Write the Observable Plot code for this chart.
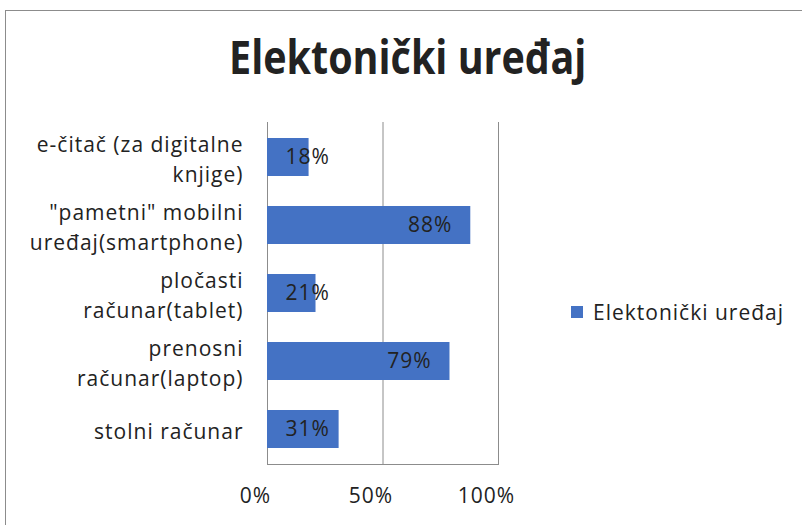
<!DOCTYPE html>
<html>
<head>
<meta charset="utf-8">
<script src="https://cdn.jsdelivr.net/npm/d3@7"></script>
<script src="https://cdn.jsdelivr.net/npm/@observablehq/plot@0.6"></script>
<style>
  html, body { margin: 0; padding: 0; background: #fff; overflow: hidden; }
  #page { position: relative; width: 802px; height: 525px; overflow: hidden; font-family: "Open Sans", sans-serif; color: #222; }
  #border { position: absolute; left: 5px; top: 10px; width: 820px; height: 540px; border: 1px solid #8c8c8c; box-sizing: border-box; }
  #title { position: absolute; left: 0; top: 33px; width: 816px; text-align: center; font-weight: bold; font-size: 47px; line-height: 1; white-space: nowrap; }
  #title span { display: inline-block; transform: scaleX(0.84); transform-origin: center; }
  #chart { position: absolute; left: 0; top: 110px; }
  #legend { position: absolute; left: 571px; top: 298px; display: flex; align-items: center; font-size: 21px; letter-spacing: 1px; white-space: nowrap; }
  #legend .sw { width: 12px; height: 12px; background: #4472C4; margin-right: 10px; }
</style>
</head>
<body>
<div id="page">
  <div id="border"></div>
  <div id="title"><span id="titleText"></span></div>
  <div id="chart"></div>
  <div id="legend"><span class="sw"></span><span id="legendText"></span></div>
</div>
<script>
const title = "Elektonički uređaj";
const seriesName = "Elektonički uređaj";
const categories = ["e-čitač", "pametni", "pločasti", "prenosni", "stolni"];
const categoryLabels = [
  "e-čitač (za digitalne\nknjige)",
  "\"pametni\" mobilni\nuređaj(smartphone)",
  "pločasti\nračunar(tablet)",
  "prenosni\nračunar(laptop)",
  "stolni računar"
];
const values = [18, 88, 21, 79, 31];
const xTicks = [0, 50, 100];

document.getElementById("titleText").textContent = title;
document.getElementById("legendText").textContent = seriesName;

const data = categories.map((c, i) => ({category: c, label: categoryLabels[i], value: values[i]}));
const labelOf = new Map(data.map(d => [d.category, d.label]));

const chart = Plot.plot({
  width: 560,
  height: 415,
  marginLeft: 267,
  marginRight: 62,
  marginTop: 12,
  marginBottom: 61,
  style: {fontFamily: "Open Sans, sans-serif", color: "#222", background: "transparent", letterSpacing: "1px"},
  x: {domain: [0, 100]},
  y: {domain: categories, paddingInner: 0.44, paddingOuter: 0.22},
  marks: [
    Plot.ruleX(xTicks, {stroke: "#8c8c8c", strokeWidth: 1, strokeOpacity: 1}),
    Plot.frame({anchor: "bottom", stroke: "#8c8c8c", strokeOpacity: 1}),
    Plot.barX(data, {x: "value", y: "category", fill: "#4472C4"}),
    Plot.text(data, {
      x: d => Math.max(d.value - 8, 27),
      y: "category",
      text: d => d.value + "%",
      textAnchor: "end",
      fontSize: 21,
      fill: "#222"
    }),
    Plot.axisY({
      tickSize: 0,
      tickPadding: 24,
      fontSize: 21,
      lineHeight: 1.43,
      tickFormat: c => labelOf.get(c),
      label: null
    }),
    Plot.axisX(xTicks, {
      tickSize: 0,
      tickPadding: 24,
      fontSize: 21,
      dx: -12,
      tickFormat: v => v + "%",
      label: null
    })
  ]
});
document.getElementById("chart").appendChild(chart);
</script>
</body>
</html>
